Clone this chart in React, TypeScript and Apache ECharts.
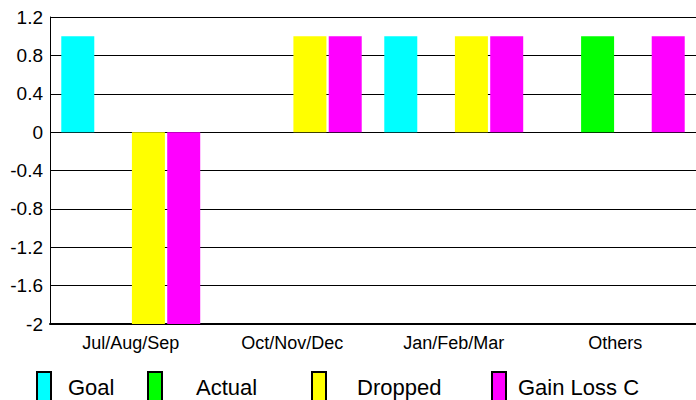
import React, { useEffect, useRef } from "react";
import * as echarts from "echarts";

const categories = ["Jul/Aug/Sep", "Oct/Nov/Dec", "Jan/Feb/Mar", "Others"];
const seriesNames = ["Goal", "Actual", "Dropped", "Gain Loss C"];
const goal = [1, 0, 1, 0];
const actual = [0, 0, 0, 1];
const dropped = [-2, 1, 1, 0];
const gainLoss = [-2, 1, 1, 1];
const colors = ["#00FFFF", "#00FF00", "#FFFF00", "#FF00FF"];

const FONT = "'Liberation Sans', Arial, sans-serif";

export default function App() {
  const ref = useRef<HTMLDivElement>(null);
  useEffect(() => {
    if (!ref.current) return;
    const chart = echarts.init(ref.current, undefined, { renderer: "svg" });
    const values = [goal, actual, dropped, gainLoss];
    const legendLeft = [36, 147, 311, 491];
    const legendPad = [12, 29, 26, 7];
    chart.setOption({
      animation: false,
      backgroundColor: "#fff",
      textStyle: { fontFamily: FONT },
      grid: { left: 50, right: -8, top: 17, bottom: 76, containLabel: false },
      legend: seriesNames.map((n, i) => ({
        data: [n],
        left: legendLeft[i],
        top: 371,
        padding: 0,
        icon: "rect",
        itemWidth: 14,
        itemHeight: 30,
        itemStyle: { borderColor: "#000", borderWidth: 2 },
        textStyle: { fontFamily: FONT, fontSize: 22, color: "#000", padding: [0, 0, 0, legendPad[i]] },
        selectedMode: false,
      })),
      xAxis: {
        type: "category",
        data: categories,
        axisLine: { onZero: false, lineStyle: { color: "#000", width: 2 } },
        axisTick: { show: false },
        axisLabel: { fontFamily: FONT, fontSize: 18, color: "#000", margin: 10 },
        splitLine: { show: false },
      },
      yAxis: {
        type: "value",
        min: -2,
        max: 1.2,
        interval: 0.4,
        axisLine: { show: true, lineStyle: { color: "#000", width: 1 } },
        axisTick: { show: false },
        axisLabel: {
          fontFamily: FONT,
          fontSize: 19,
          color: "#000",
          margin: 7,
          formatter: (v: number) => String(Math.round(v * 10) / 10),
        },
        splitLine: { show: true, lineStyle: { color: "#000", width: 1 } },
      },
      series: seriesNames.map((n, i) => ({
        name: n,
        type: "bar",
        data: values[i],
        barWidth: 33,
        barGap: "7%",
        itemStyle: { color: colors[i] },
      })),
    });
    return () => chart.dispose();
  }, []);
  return <div ref={ref} style={{ position: "fixed", left: 0, top: 0, width: 696, height: 400 }} />;
}
